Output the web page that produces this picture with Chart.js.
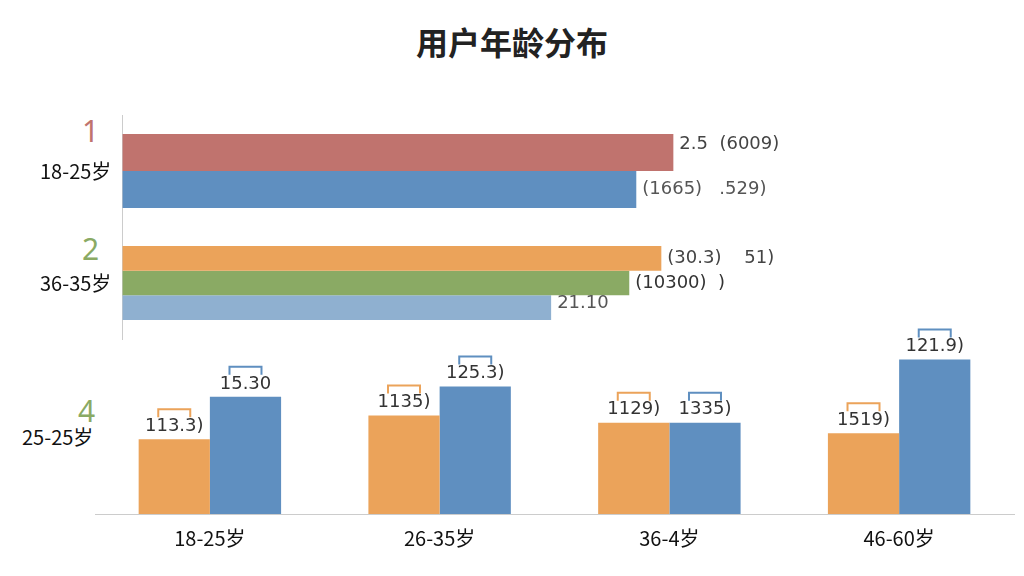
<!DOCTYPE html>
<html><head><meta charset="utf-8">
<script src="https://cdn.jsdelivr.net/npm/chart.js@4"></script>
<style>
body{margin:0;width:1024px;height:576px;background:#fff;font-family:"Noto Sans CJK SC","Noto Sans",sans-serif;position:relative;overflow:hidden}
#title{position:absolute;top:18px;left:0;width:1024px;text-align:center;font-size:32px;font-weight:bold;color:#222}
.num{position:absolute;font-size:30px;font-family:"Noto Sans"}
#c1wrap{position:absolute;left:0;top:100px;width:1024px;height:254px}
#c2wrap{position:absolute;left:0;top:320px;width:1024px;height:256px}
#lab3{position:absolute;left:22px;top:422px;font-size:20px;color:#111}
</style></head><body>
<div id="title">用户年龄分布</div>
<div class="num" style="left:82px;top:110px;color:#c0736e">1</div>
<div class="num" style="left:82px;top:228px;color:#8aaa64">2</div>
<div class="num" style="left:78px;top:390px;color:#8aaa64">4</div>
<div id="lab3">25-25岁</div>
<div id="c1wrap"><canvas id="c1"></canvas></div>
<div id="c2wrap"><canvas id="c2"></canvas></div>
<script>
const topCategories = ["18-25岁", "36-35岁"];
const topRed = [550, null];
const topBlue = [513, null];
const topOrange = [null, 538];
const topGreen = [null, 506];
const topLightBlue = [null, 428];
const topRedLabels = ["2.5  (6009)", ""];
const topBlueLabels = ["(1665)   .529)", ""];
const topOrangeLabels = ["", "(30.3)    51)"];
const topGreenLabels = ["", "(10300)  )"];
const topLightLabels = ["", "21.10"];

const bottomCategories = ["18-25岁", "26-35岁", "36-4岁", "46-60岁"];
const bottomOrange = [72, 95, 88, 78];
const bottomBlue = [113, 123, 88, 149];
const bottomOrangeLabels = ["113.3)", "1135)", "1129)", "1519)"];
const bottomBlueLabels = ["15.30", "125.3)", "1335)", "121.9)"];

const labelPlugin = {
  id: 'lbl',
  afterDatasetsDraw(chart) {
    const ctx = chart.ctx;
    ctx.save();
    ctx.font = '18px "DejaVu Sans"';
    chart.data.datasets.forEach((ds, i) => {
      if (!ds.labels) return;
      chart.getDatasetMeta(i).data.forEach((el, j) => {
        const t = ds.labels[j];
        if (!t || ds.data[j] == null) return;
        ctx.fillStyle = ds.labelColor || '#333';
        if (chart.options.indexAxis === 'y') {
          ctx.textAlign = 'left'; ctx.textBaseline = 'middle';
          ctx.fillText(t, el.x + 6, el.y + (ds.dy || 0));
        } else {
          ctx.textAlign = 'center'; ctx.textBaseline = 'bottom';
          ctx.fillText(t, el.x, el.y - 4);
          ctx.strokeStyle = ds.backgroundColor; ctx.lineWidth = 2;
          ctx.beginPath();
          ctx.moveTo(el.x - 16, el.y - 22); ctx.lineTo(el.x - 16, el.y - 30);
          ctx.lineTo(el.x + 16, el.y - 30); ctx.lineTo(el.x + 16, el.y - 22);
          ctx.stroke();
        }
      });
    });
    ctx.restore();
  }
};

new Chart(document.getElementById('c1'), {
  type: 'bar',
  data: {
    labels: topCategories,
    datasets: [
      {data: topRed, backgroundColor: '#c0736e', labels: topRedLabels, labelColor: '#444', dy: -8},
      {data: topBlue, backgroundColor: '#5f8fc0', labels: topBlueLabels, labelColor: '#555'},
      {data: topOrange, backgroundColor: '#eba35a', labels: topOrangeLabels, labelColor: '#444'},
      {data: topGreen, backgroundColor: '#8aaa64', labels: topGreenLabels, labelColor: '#333'},
      {data: topLightBlue, backgroundColor: '#8fb0d0', labels: topLightLabels, labelColor: '#555', dy: -4}
    ]
  },
  options: {
    indexAxis: 'y', responsive: true, maintainAspectRatio: false, animation: false,
    datasets: {bar: {skipNull: true, categoryPercentage: 0.66, barPercentage: 1}},
    layout: {padding: {left: 37, right: 0, top: 8, bottom: 0}},
    plugins: {legend: {display: false}, tooltip: {enabled: false}},
    scales: {
      x: {display: false, min: 0, max: 900},
      y: {grid: {display: false}, border: {display: true, color: '#ccc'},
          ticks: {color: '#111', font: {size: 20, family: '"Noto Sans CJK SC"'}}}
    }
  },
  plugins: [labelPlugin]
});

new Chart(document.getElementById('c2'), {
  type: 'bar',
  data: {
    labels: bottomCategories,
    datasets: [
      {data: bottomOrange, backgroundColor: '#eba35a', labels: bottomOrangeLabels},
      {data: bottomBlue, backgroundColor: '#5f8fc0', labels: bottomBlueLabels}
    ]
  },
  options: {
    responsive: true, maintainAspectRatio: false, animation: false,
    datasets: {bar: {categoryPercentage: 0.62, barPercentage: 1}},
    layout: {padding: {left: 95, right: 10, top: 25, bottom: 22}},
    plugins: {legend: {display: false}, tooltip: {enabled: false}},
    scales: {
      x: {grid: {display: false}, border: {color: '#ccc'},
          ticks: {color: '#111', padding: 4, font: {size: 20, family: '"Noto Sans CJK SC"'}}},
      y: {display: false, min: 0, max: 163}
    }
  },
  plugins: [labelPlugin]
});
</script>
</body></html>
